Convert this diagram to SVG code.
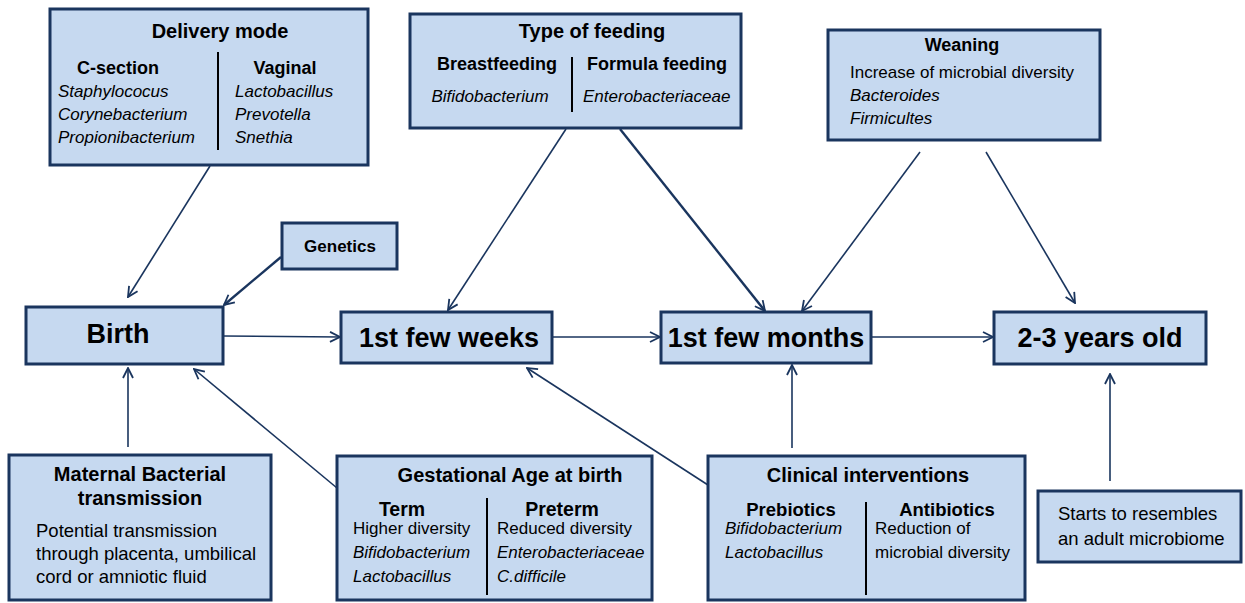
<svg xmlns="http://www.w3.org/2000/svg" width="1245" height="603" viewBox="0 0 1245 603">
<style>
.box{fill:#c6d9f0;stroke:#1a355e;stroke-width:3}
.div{stroke:#000;stroke-width:2}
text{font-family:"Liberation Sans",Arial,sans-serif;fill:#000}
.h{font-weight:bold;font-size:20px;text-anchor:middle}
.sh{font-weight:bold;font-size:18px;text-anchor:middle}
.big{font-weight:bold;font-size:27px;text-anchor:middle}
.t{font-size:17px}
.i{font-size:17px;font-style:italic}
.m{font-size:18.5px}
.c{stroke:#1a355e;stroke-width:1.6;fill:none;marker-end:url(#ah)}
.ck{stroke:#1a355e;stroke-width:2.4;fill:none;marker-end:url(#ah)}
</style>
<defs>
<marker id="ah" viewBox="0 0 12 12" refX="11" refY="6" markerWidth="12" markerHeight="12" markerUnits="userSpaceOnUse" orient="auto">
<path d="M1,1 L11,6 L1,11" fill="none" stroke="#1a355e" stroke-width="1.8"/>
</marker>
</defs>
<rect width="1245" height="603" fill="#fff"/>
<g id="connectors">
<line class="c" x1="210" y1="166" x2="128" y2="297"/>
<line class="ck" x1="281" y1="257" x2="224" y2="305"/>
<line class="c" x1="223" y1="336" x2="340" y2="337"/>
<line class="c" x1="566" y1="129" x2="448" y2="310"/>
<line class="c" x1="552" y1="337" x2="660" y2="337"/>
<line class="ck" x1="620" y1="129" x2="765" y2="311"/>
<line class="c" x1="920" y1="152" x2="802" y2="311"/>
<line class="c" x1="986" y1="152" x2="1075" y2="303"/>
<line class="c" x1="871" y1="337" x2="993" y2="337"/>
<line class="c" x1="128" y1="447" x2="128" y2="368"/>
<line class="c" x1="337" y1="488" x2="194" y2="369"/>
<line class="c" x1="708" y1="485" x2="527" y2="368"/>
<line class="c" x1="792" y1="448" x2="792" y2="365"/>
<line class="c" x1="1110" y1="481" x2="1110" y2="374"/>
</g>
<g id="delivery">
<rect class="box" x="50" y="9" width="318" height="156"/>
<text class="h" x="220" y="38">Delivery mode</text>
<line class="div" x1="218" y1="52" x2="218" y2="150"/>
<text class="sh" x="118" y="74">C-section</text>
<text class="sh" x="285" y="74">Vaginal</text>
<text class="i" x="58" y="97">Staphylococus</text>
<text class="i" x="58" y="120">Corynebacterium</text>
<text class="i" x="58" y="143">Propionibacterium</text>
<text class="i" x="235" y="97">Lactobacillus</text>
<text class="i" x="235" y="120">Prevotella</text>
<text class="i" x="235" y="143">Snethia</text>
</g>
<g id="feeding">
<rect class="box" x="410" y="14" width="331" height="114"/>
<text class="h" x="592" y="38">Type of feeding</text>
<line class="div" x1="572" y1="57" x2="572" y2="112"/>
<text class="sh" x="497" y="70">Breastfeeding</text>
<text class="sh" x="657" y="70">Formula feeding</text>
<text class="i" x="490" y="102" text-anchor="middle">Bifidobacterium</text>
<text class="i" x="583" y="102">Enterobacteriaceae</text>
</g>
<g id="weaning">
<rect class="box" x="828" y="30" width="272" height="110"/>
<text class="sh" x="962" y="51">Weaning</text>
<text class="t" x="850" y="78">Increase of microbial diversity</text>
<text class="i" x="850" y="101">Bacteroides</text>
<text class="i" x="850" y="124">Firmicultes</text>
</g>
<g id="genetics">
<rect class="box" x="282" y="223" width="115" height="46"/>
<text x="340" y="252" style="font-weight:bold;font-size:17px;text-anchor:middle">Genetics</text>
</g>
<g id="birth">
<rect class="box" x="26" y="307" width="197" height="57"/>
<text class="big" x="118" y="343">Birth</text>
</g>
<g id="weeks">
<rect class="box" x="341" y="312" width="211" height="51"/>
<text class="big" x="449" y="347">1st few weeks</text>
</g>
<g id="months">
<rect class="box" x="661" y="312" width="210" height="51"/>
<text class="big" x="766" y="347">1st few months</text>
</g>
<g id="years">
<rect class="box" x="994" y="312" width="212" height="52"/>
<text class="big" x="1100" y="347">2-3 years old</text>
</g>
<g id="maternal">
<rect class="box" x="9" y="455" width="262" height="145"/>
<text class="h" x="140" y="481">Maternal Bacterial</text>
<text class="h" x="140" y="505">transmission</text>
<text class="m" x="36" y="537">Potential transmission</text>
<text class="m" x="36" y="560">through placenta, umbilical</text>
<text class="m" x="36" y="583">cord or amniotic fluid</text>
</g>
<g id="gestational">
<rect class="box" x="337" y="456" width="315" height="144"/>
<text class="h" x="510" y="482">Gestational Age at birth</text>
<line class="div" x1="487" y1="498" x2="487" y2="595"/>
<text class="sh" x="402" y="516" style="font-size:19.5px">Term</text>
<text class="sh" x="562" y="516" style="font-size:19.5px">Preterm</text>
<text class="t" x="353" y="534">Higher diversity</text>
<text class="i" x="353" y="558">Bifidobacterium</text>
<text class="i" x="353" y="582">Lactobacillus</text>
<text class="t" x="497" y="534">Reduced diversity</text>
<text class="i" x="497" y="558">Enterobacteriaceae</text>
<text class="i" x="497" y="582">C.difficile</text>
</g>
<g id="clinical">
<rect class="box" x="708" y="456" width="317" height="144"/>
<text class="h" x="868" y="482">Clinical interventions</text>
<line class="div" x1="866" y1="502" x2="866" y2="595"/>
<text class="sh" x="791" y="516" style="font-size:18.5px">Prebiotics</text>
<text class="sh" x="947" y="516" style="font-size:18.5px">Antibiotics</text>
<text class="i" x="725" y="534">Bifidobacterium</text>
<text class="i" x="725" y="558">Lactobacillus</text>
<text class="t" x="875" y="534">Reduction of</text>
<text class="t" x="875" y="558">microbial diversity</text>
</g>
<g id="starts">
<rect class="box" x="1038" y="491" width="203" height="71"/>
<text class="m" x="1058" y="520">Starts to resembles</text>
<text class="m" x="1058" y="545">an adult microbiome</text>
</g>
</svg>
